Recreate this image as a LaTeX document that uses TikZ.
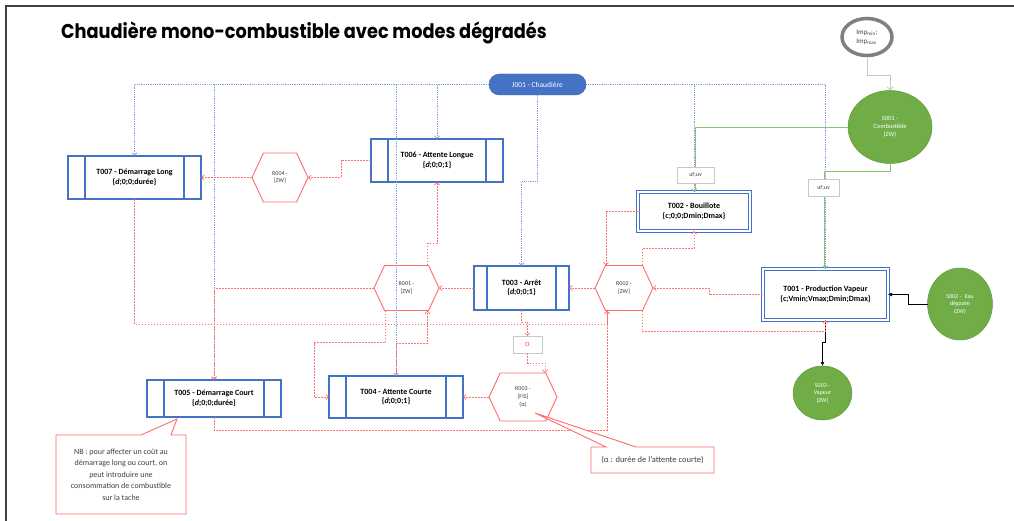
\documentclass[tikz,border=0pt]{standalone}
\usepackage{fontspec}
\setmainfont{Carlito}
\newfontfamily\titlefont{Poppins}
\usetikzlibrary{arrows.meta,calc,shapes.symbols,shapes.geometric,shapes.callouts}

\definecolor{taskblue}{HTML}{4472C4}
\definecolor{ctrlblue}{HTML}{7F9FDA}
\definecolor{flowred}{HTML}{FF7070}
\definecolor{rulered}{HTML}{FF6B6B}
\definecolor{stockgreen}{HTML}{70AD47}
\definecolor{stockedge}{HTML}{5E9A3A}
\definecolor{fuelgreen}{HTML}{8CC46A}
\definecolor{boxgray}{HTML}{C8C8C8}
\definecolor{ringgray}{HTML}{808080}
\definecolor{framegray}{HTML}{404040}
\definecolor{txtgray}{HTML}{404040}

\tikzset{
  task/.style={draw=taskblue, line width=1.6pt, fill=white, inner sep=0pt, outer sep=0pt,
    align=center, text=black, font=\fontsize{8}{9.6}\selectfont\bfseries},
  taskdbl/.style={task, line width=1.1pt, double=white, double distance=1.5pt},
  rulehex/.style={signal, signal to=west and east, signal pointer angle=130, draw=rulered,
    line width=0.9pt, fill=white, inner sep=0pt, outer sep=0pt, align=center, text=txtgray,
    font=\fontsize{6}{7.6}\selectfont},
  stock/.style={ellipse, fill=stockgreen, draw=stockedge, line width=0.5pt, inner sep=0pt,
    outer sep=0pt, text=white, align=center, font=\fontsize{6.5}{8}\selectfont},
  tag/.style={draw=boxgray, fill=white, line width=0.7pt, inner sep=0pt, outer sep=0pt,
    font=\fontsize{6}{7}\selectfont, text=txtgray},
  note/.style={rectangle callout, draw=rulered, line width=0.9pt, fill=white, align=center,
    inner sep=0pt, text=txtgray, font=\fontsize{8}{11.6}\selectfont},
  tip/.style={-{Straight Barb[length=2.6pt,width=5pt]}},
  ctrl/.style={tip, draw=ctrlblue, line width=0.75pt, dash pattern=on 0.9pt off 0.9pt},
  flow/.style={tip, draw=flowred, line width=0.75pt, dash pattern=on 1.8pt off 1.2pt},
  fuel/.style={draw=fuelgreen, line width=0.9pt, -{Latex[length=3pt,width=3pt]}},
  water/.style={draw=black, line width=0.8pt, -{Latex[length=4pt,width=4pt]}},
  imp/.style={draw=boxgray, line width=1pt, -{Straight Barb[length=3pt,width=6pt]}},
  sideline/.style={draw=taskblue, line width=1.6pt}
}

\begin{document}
\begin{tikzpicture}[x=1pt, y=-1pt]
\useasboundingbox (0,0) rectangle (1014,521);
\fill[white] (0,0) rectangle (1014,521);

% frame of the sheet
\draw[framegray, line width=2pt] (6,521) -- (6,6) -- (1014,6);

% title
\node[anchor=west, inner sep=0pt, font=\titlefont\bfseries\fontsize{20}{23}\selectfont] (title) at (61,33)
  {\scalebox{0.887}[1]{Chaudière mono-combustible avec modes dégradés}};

% job
\node[rounded corners=10.5pt, fill=taskblue, draw=taskblue!80!black, line width=0.4pt,
  minimum width=97pt, minimum height=21pt, inner sep=0pt, text=white,
  font=\fontsize{7.5}{9}\selectfont] (J001) at (537.5,84.5) {J001 - Chaudière};

% tasks
\node[task, minimum width=133pt, minimum height=43pt] (T007) at (134.5,177.5)
  {T007 - Démarrage Long\\\{\textit{d};0;0;durée\}};
\node[task, minimum width=132pt, minimum height=43pt] (T006) at (437,160.5)
  {T006 - Attente Longue\\\{\textit{d};0;0;1\}};
\node[task, minimum width=95pt, minimum height=44pt] (T003) at (521.5,288)
  {T003 - Arrêt\\\{\textit{d};0;0;1\}};
\node[task, minimum width=134pt, minimum height=37pt] (T005) at (214,398.5)
  {T005 - Démarrage Court\\\{\textit{d};0;0;durée\}};
\node[task, minimum width=134pt, minimum height=42pt] (T004) at (396,397)
  {T004 - Attente Courte\\\{\textit{d};0;0;1\}};
\node[taskdbl, minimum width=112pt, minimum height=39pt] (T002) at (694,211.5)
  {T002 - Bouillote\\\{c;0;0;Dmin;Dmax\}};
\node[taskdbl, minimum width=125pt, minimum height=51pt] (T001) at (825.5,294.5)
  {T001 - Production Vapeur\\\{c;Vmin;Vmax;Dmin;Dmax\}};

% side bars of the single-framed tasks
\foreach \t/\d in {T007/17, T006/17, T003/13, T005/17, T004/17}{
  \draw[sideline] ([xshift=\d pt]\t.north west) -- ([xshift=\d pt]\t.south west);
  \draw[sideline] ([xshift=-\d pt]\t.north east) -- ([xshift=-\d pt]\t.south east);
}

% rules
\node[rulehex, minimum width=56pt, minimum height=49pt] (R004) at (280,177.5) {R004 -\\{[}ZW{]}};
\node[rulehex, minimum width=65pt, minimum height=45pt] (R001) at (406.5,288) {R001 -\\{[}ZW{]}};
\node[rulehex, minimum width=58pt, minimum height=45pt] (R002) at (624,288) {R002 -\\{[}ZW{]}};
\node[rulehex, minimum width=68pt, minimum height=48pt] (R003) at (523,397) {R003 -\\{[}FIS{]}\\(α)};

% stocks
\node[stock, minimum width=84pt, minimum height=73pt] (S001) at (890,127) {S001 -\\Combustible\\(ZW)};
\node[stock, minimum width=65pt, minimum height=72pt, font=\fontsize{6}{7.5}\selectfont] (S002) at (960,304)
  {S002 -\;\;Eau\\dégazée\\(ZW)};
\node[stock, minimum width=59pt, minimum height=54pt, font=\fontsize{6}{7.5}\selectfont] (S003) at (822.5,393)
  {S003 -\\Vapeur\\(ZW)};
\node[ellipse, draw=ringgray, line width=3.5pt, fill=white, minimum width=50pt, minimum height=37pt,
  inner sep=0pt, outer sep=1.75pt, align=left, text=txtgray, font=\fontsize{7}{9}\selectfont] (Imp) at (867,37)
  {Imp\textsubscript{min};\\Imp\textsubscript{max}};

% control links from the job
\draw[ctrl] (J001.west) -| (T007.north);
\draw[ctrl] (J001.west) -| (T005.north);
\draw[ctrl] (J001.west) -| (T004.north);
\draw[ctrl] (J001.west) -| (T006.north);
\draw[ctrl] (J001.south) -- ++(0,86.5) -| (T003.north);
\draw[ctrl] (J001.east) -| (T002.north);
\draw[ctrl] (J001.east) -| (T001.north);

% fuel supply
\draw[imp] (Imp.south) -- ++(0,18) -| (S001.north);
\draw[fuel] (S001.west) -| ([xshift=1.5pt]T002.north);
\draw[fuel] (S001.south) -- ++(0,8) -| ([xshift=-1.5pt]T001.north);
\node[tag, minimum width=37pt, minimum height=16pt] (uf1) at (695.5,175) {uf;uv};
\node[tag, minimum width=31pt, minimum height=17pt] (uf2) at (823.5,188) {uf;uv};

% water in, steam out
\draw[water] (S002.west) -- ++(-19,0) |- (T001.east);
\draw[water] (T001.south) -- ++(0,22) -| (S003.north);

% sequencing links
\draw[flow] (T006.west) -- ++(-30,0) |- (R004.east);
\draw[flow] (R004.west) -- (T007.east);
\draw[flow] (T007.south) -- ++(0,125) -| ($(R002.south)+(-17,0)$);
\draw[flow] (T005.south) -- ++(0,13) -| ($(R002.south)+(-17,0)$);
\draw[flow] (T003.west) -- (R001.east);
\draw[flow] (R001.west) -| (T005.north);
\draw[flow] ($(R001.south)+(-21,0)$) -- ++(0,32) -| ($(T004.west)+(-15,0)$) -- (T004.west);
\draw[flow] (T004.north) -- ++(0,-33) -| ($(R001.south)+(21,0)$);
\draw[flow] ($(R001.north)+(21,0)$) -- ++(0,-22) -| (T006.south);
\draw[flow] (R002.west) -- (T003.east);
\draw[flow] (T002.west) -| ($(R002.north)+(-18,0)$);
\draw[flow] ($(R002.north)+(18,0)$) -- ++(0,-17) -| (T002.south);
\draw[flow] (T001.west) -- ++(-54,0) |- (R002.east);
\draw[flow] ($(R002.south)+(18,0)$) -- ++(0,21) -| (T001.south);

% alpha parameter
\node[tag, minimum width=29pt, minimum height=17pt, text=rulered, font=\fontsize{8.5}{9}\selectfont] (alpha) at (527.5,344.5) {α};
\draw[flow] (T003.south) -- ++(0,12) -| (alpha.north);
\draw[flow] (alpha.south) -- ++(0,10) -| ($(R003.north)+(22,0)$);
\draw[flow] (R003.west) -- (T004.east);

% notes
\node[note, minimum width=123pt, minimum height=26pt, font=\fontsize{8.5}{10}\selectfont,
  callout absolute pointer={(535,413)}, callout pointer width=30pt] (noteA) at (652.5,460)
  {(α : durée de l'attente courte)};
\node[note, minimum width=130pt, minimum height=79pt,
  callout absolute pointer={(177,419)}, callout pointer width=30pt] (noteNB) at (121,474.5)
  {NB : pour affecter un coût au\\démarrage long ou court, on\\peut introduire une\\consommation de combustible\\sur la tache};
\end{tikzpicture}
\end{document}
